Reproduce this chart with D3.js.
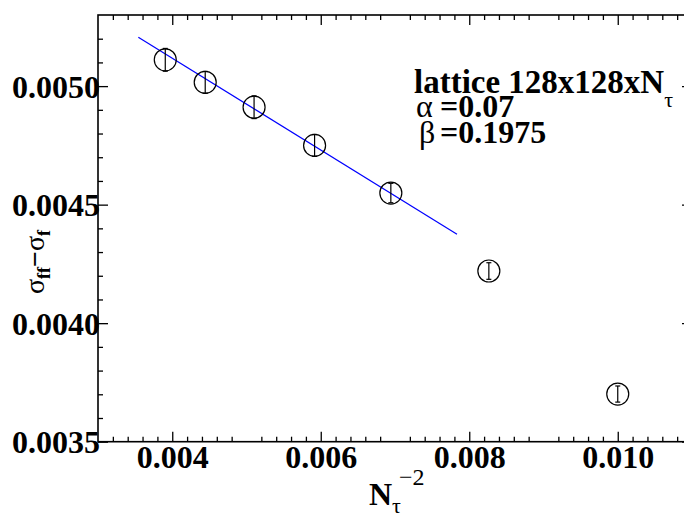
<!DOCTYPE html>
<html>
<head>
<meta charset="utf-8">
<script src="https://cdn.jsdelivr.net/npm/d3@7/dist/d3.min.js"></script>
<style>
  html, body { margin: 0; padding: 0; background: #fff; }
  svg { display: block; }
  svg text { font-family: "Liberation Serif", Tinos, "Times New Roman", Times, "DejaVu Serif", serif; }
</style>
</head>
<body>
<svg id="chart" width="684" height="514"></svg>
<script>
// ---- data ----
const nTau      = [16, 15, 14, 13, 12, 11, 10];
const xValues   = [0.003906, 0.004444, 0.005102, 0.005917, 0.006944, 0.008264, 0.010000];
const yValues   = [0.005111, 0.005016, 0.004911, 0.004750, 0.004549, 0.004220, 0.003701];
const yErrors   = [0.000048, 0.000046, 0.000048, 0.000046, 0.000041, 0.000035, 0.000034];
const fitX      = [0.003543, 0.007835];
const fitY      = [0.005206, 0.004375];
const xMajor    = [0.004, 0.006, 0.008, 0.010];
const xMinor    = [0.0032,0.0034,0.0036,0.0038,0.0042,0.0044,0.0046,0.0048,0.0052,0.0054,0.0056,0.0058,
                   0.0062,0.0064,0.0066,0.0068,0.0072,0.0074,0.0076,0.0078,0.0082,0.0084,0.0086,0.0088,
                   0.0092,0.0094,0.0096,0.0098,0.0102,0.0104,0.0106,0.0108];
const yMajor    = [0.0035, 0.0040, 0.0045, 0.0050];
const yMinor    = [0.0036,0.0037,0.0038,0.0039,0.0041,0.0042,0.0043,0.0044,0.0046,0.0047,0.0048,0.0049,
                   0.0051,0.0052];
const xDomain   = [0.003, 0.011];
const yDomain   = [0.0035, 0.0053];

// ---- layout ----
const L = 98, R = 692, T = 15, B = 441.7;
const svg = d3.select("#chart");
const x = d3.scaleLinear().domain(xDomain).range([L, R]);
const y = d3.scaleLinear().domain(yDomain).range([B, T]);

const axisColor = "#000";
function styleAxis(g) {
  g.select(".domain").remove();
  g.attr("font-family", null).attr("font-size", null);
  g.selectAll(".tick line").attr("stroke", axisColor).attr("stroke-width", 1.3);
}

// bottom axis
svg.append("g").attr("transform", `translate(0,${B})`)
  .call(d3.axisBottom(x).tickValues(xMinor).tickSize(-5).tickFormat("")).call(styleAxis);
const gxb = svg.append("g").attr("transform", `translate(0,${B})`)
  .call(d3.axisBottom(x).tickValues(xMajor).tickSize(-10).tickPadding(4).tickFormat(d3.format(".3f")))
  .call(styleAxis);
gxb.selectAll("text").attr("fill", "#000").attr("font-size", 32).attr("font-weight", "bold");

// top axis
svg.append("g").attr("transform", `translate(0,${T})`)
  .call(d3.axisTop(x).tickValues(xMinor).tickSize(-5).tickFormat("")).call(styleAxis);
svg.append("g").attr("transform", `translate(0,${T})`)
  .call(d3.axisTop(x).tickValues(xMajor).tickSize(-10).tickFormat("")).call(styleAxis);

// left axis
svg.append("g").attr("transform", `translate(${L},0)`)
  .call(d3.axisLeft(y).tickValues(yMinor).tickSize(-5).tickFormat("")).call(styleAxis);
const gyl = svg.append("g").attr("transform", `translate(${L},0)`)
  .call(d3.axisLeft(y).tickValues(yMajor).tickSize(-10).tickPadding(-2).tickFormat(d3.format(".4f")))
  .call(styleAxis);
gyl.selectAll("text").attr("fill", "#000").attr("font-size", 32).attr("font-weight", "bold")
  .attr("dy", "0.34em");

// right axis
svg.append("g").attr("transform", `translate(${R},0)`)
  .call(d3.axisRight(y).tickValues(yMinor).tickSize(-5).tickFormat("")).call(styleAxis);
svg.append("g").attr("transform", `translate(${R},0)`)
  .call(d3.axisRight(y).tickValues(yMajor).tickSize(-10).tickFormat("")).call(styleAxis);

// frame
svg.append("rect").attr("x", L).attr("y", T).attr("width", R - L).attr("height", B - T)
  .attr("fill", "none").attr("stroke", axisColor).attr("stroke-width", 1.6);

// fit line
svg.append("line")
  .attr("x1", x(fitX[0])).attr("y1", y(fitY[0]))
  .attr("x2", x(fitX[1])).attr("y2", y(fitY[1]))
  .attr("stroke", "#0000ff").attr("stroke-width", 1.2);

// data points
const pts = xValues.map((xv, i) => ({ n: nTau[i], x: xv, y: yValues[i], e: yErrors[i] }));
const gp = svg.append("g");
const p = gp.selectAll("g.pt").data(pts).join("g").attr("class", "pt");
p.append("line")
  .attr("x1", d => x(d.x)).attr("x2", d => x(d.x))
  .attr("y1", d => y(d.y + d.e)).attr("y2", d => y(d.y - d.e))
  .attr("stroke", "#000").attr("stroke-width", 1.2);
[1, -1].forEach(s => {
  p.append("line")
    .attr("x1", d => x(d.x) - 2.5).attr("x2", d => x(d.x) + 2.5)
    .attr("y1", d => y(d.y + s * d.e)).attr("y2", d => y(d.y + s * d.e))
    .attr("stroke", "#000").attr("stroke-width", 1.2);
});
p.append("circle")
  .attr("cx", d => x(d.x)).attr("cy", d => y(d.y)).attr("r", 11)
  .attr("fill", "none").attr("stroke", "#000").attr("stroke-width", 1.2);

// annotations
const ann = svg.append("g").attr("fill", "#000");
const t1 = ann.append("text").attr("x", 414).attr("y", 92.5).attr("font-size", 33).attr("font-weight", "bold");
t1.append("tspan").text("lattice 128x128xN");
t1.append("tspan").attr("dy", 14).attr("font-size", 22).attr("font-weight", "normal").text("τ");

const t2 = ann.append("text").attr("x", 416).attr("y", 116.5).attr("font-size", 32);
t2.append("tspan").text("α");
t2.append("tspan").attr("x", 440).attr("font-weight", "bold").text("=0.07");

const t3 = ann.append("text").attr("x", 419).attr("y", 143).attr("font-size", 32);
t3.append("tspan").text("β");
t3.append("tspan").attr("x", 440).attr("font-weight", "bold").text("=0.1975");

// x axis label
const xl = svg.append("text").attr("x", 369).attr("y", 505).attr("font-size", 32).attr("font-weight", "bold").attr("fill", "#000");
xl.append("tspan").text("N");
xl.append("tspan").attr("dy", 8).attr("font-size", 22).attr("font-weight", "normal").text("τ");
xl.append("tspan").attr("x", 399).attr("dy", -28).attr("font-size", 24).attr("font-weight", "normal").text("−2");

// y axis label
const yl = svg.append("text").attr("transform", "translate(44,262) rotate(-90)")
  .attr("text-anchor", "middle").attr("font-size", 28).attr("fill", "#000");
yl.append("tspan").text("σ");
yl.append("tspan").attr("dy", 6).attr("font-size", 18).attr("font-weight", "bold").text("ff");
yl.append("tspan").attr("dy", -6).attr("font-weight", "bold").text("−");
yl.append("tspan").text("σ");
yl.append("tspan").attr("dy", 6).attr("font-size", 18).attr("font-weight", "bold").text("f");
</script>
</body>
</html>
